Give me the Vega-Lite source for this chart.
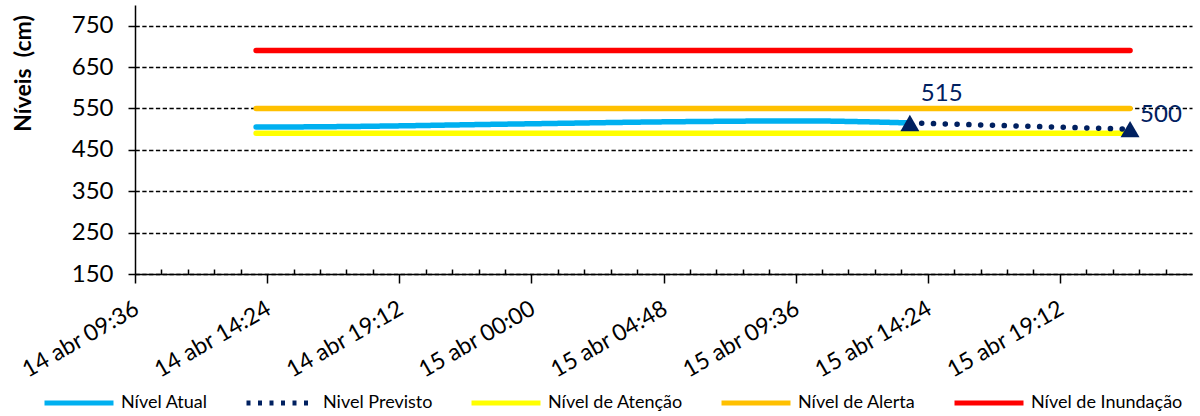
{
  "$schema": "https://vega.github.io/schema/vega-lite/v6.json",
  "width": 1057,
  "height": 269,
  "autosize": {"type": "none"},
  "padding": {"left": 135, "top": 5, "right": 8, "bottom": 142},
  "background": "white",
  "config": {
    "view": {"stroke": null},
    "font": "Lato",
    "axis": {
      "domainColor": "#000000",
      "domainWidth": 1.5,
      "tickColor": "#000000",
      "tickWidth": 1.5,
      "labelFont": "Lato",
      "labelFontSize": 24,
      "labelColor": "#000000",
      "titleFont": "Lato",
      "titleColor": "#000000"
    },
    "legend": {
      "orient": "none",
      "legendX": -93,
      "legendY": 361,
      "direction": "horizontal",
      "gridAlign": "none",
      "symbolType": "stroke",
      "symbolSize": 4761,
      "symbolStrokeWidth": 5,
      "labelFont": "Lato",
      "labelFontSize": 18,
      "labelColor": "#000000",
      "columnPadding": 28,
      "labelOffset": 5,
      "padding": 0
    }
  },
  "data": {
    "values": [
      {"serie": "Nível de Inundação", "t": "2024-04-14T14:00:00", "v": 690},
      {"serie": "Nível de Inundação", "t": "2024-04-15T21:45:00", "v": 690},
      {"serie": "Nível de Alerta", "t": "2024-04-14T14:00:00", "v": 550},
      {"serie": "Nível de Alerta", "t": "2024-04-15T21:45:00", "v": 550},
      {"serie": "Nível de Atenção", "t": "2024-04-14T14:00:00", "v": 490},
      {"serie": "Nível de Atenção", "t": "2024-04-15T21:45:00", "v": 490},
      {"serie": "Nível Atual", "t": "2024-04-14T14:00:00", "v": 505},
      {"serie": "Nível Atual", "t": "2024-04-14T16:45:00", "v": 506},
      {"serie": "Nível Atual", "t": "2024-04-14T19:15:00", "v": 508},
      {"serie": "Nível Atual", "t": "2024-04-14T22:00:00", "v": 511},
      {"serie": "Nível Atual", "t": "2024-04-15T01:00:00", "v": 514},
      {"serie": "Nível Atual", "t": "2024-04-15T04:00:00", "v": 517},
      {"serie": "Nível Atual", "t": "2024-04-15T07:00:00", "v": 519},
      {"serie": "Nível Atual", "t": "2024-04-15T09:45:00", "v": 520},
      {"serie": "Nível Atual", "t": "2024-04-15T12:00:00", "v": 518},
      {"serie": "Nível Atual", "t": "2024-04-15T13:45:00", "v": 515},
      {"serie": "Nivel Previsto", "t": "2024-04-15T13:45:00", "v": 515},
      {"serie": "Nivel Previsto", "t": "2024-04-15T21:45:00", "v": 500}
    ]
  },
  "encoding": {
    "x": {
      "field": "t",
      "type": "temporal",
      "title": null,
      "scale": {
        "domain": [
          {"year": 2024, "month": 4, "date": 14, "hours": 9, "minutes": 36},
          {"year": 2024, "month": 4, "date": 16, "hours": 0, "minutes": 0}
        ]
      },
      "axis": {
        "grid": false,
        "labelAngle": -30,
        "labelFontSize": 23,
        "labelOverlap": false,
        "labelFlush": false,
        "labelPadding": 14,
        "labelOffset": -4,
        "labelExpr": "seconds(datum.value) == 0 ? timeFormat(datum.value, '%d abr %H:%M') : ''",
        "tickSize": {"condition": {"test": "seconds(datum.value) == 0", "value": 9}, "value": -5},
        "values": [
          {"year": 2024, "month": 4, "date": 14, "hours": 9, "minutes": 36, "seconds": 0},
          {"year": 2024, "month": 4, "date": 14, "hours": 10, "minutes": 33, "seconds": 36},
          {"year": 2024, "month": 4, "date": 14, "hours": 11, "minutes": 31, "seconds": 12},
          {"year": 2024, "month": 4, "date": 14, "hours": 12, "minutes": 28, "seconds": 48},
          {"year": 2024, "month": 4, "date": 14, "hours": 13, "minutes": 26, "seconds": 24},
          {"year": 2024, "month": 4, "date": 14, "hours": 14, "minutes": 24, "seconds": 0},
          {"year": 2024, "month": 4, "date": 14, "hours": 15, "minutes": 21, "seconds": 36},
          {"year": 2024, "month": 4, "date": 14, "hours": 16, "minutes": 19, "seconds": 12},
          {"year": 2024, "month": 4, "date": 14, "hours": 17, "minutes": 16, "seconds": 48},
          {"year": 2024, "month": 4, "date": 14, "hours": 18, "minutes": 14, "seconds": 24},
          {"year": 2024, "month": 4, "date": 14, "hours": 19, "minutes": 12, "seconds": 0},
          {"year": 2024, "month": 4, "date": 14, "hours": 20, "minutes": 9, "seconds": 36},
          {"year": 2024, "month": 4, "date": 14, "hours": 21, "minutes": 7, "seconds": 12},
          {"year": 2024, "month": 4, "date": 14, "hours": 22, "minutes": 4, "seconds": 48},
          {"year": 2024, "month": 4, "date": 14, "hours": 23, "minutes": 2, "seconds": 24},
          {"year": 2024, "month": 4, "date": 15, "hours": 0, "minutes": 0, "seconds": 0},
          {"year": 2024, "month": 4, "date": 15, "hours": 0, "minutes": 57, "seconds": 36},
          {"year": 2024, "month": 4, "date": 15, "hours": 1, "minutes": 55, "seconds": 12},
          {"year": 2024, "month": 4, "date": 15, "hours": 2, "minutes": 52, "seconds": 48},
          {"year": 2024, "month": 4, "date": 15, "hours": 3, "minutes": 50, "seconds": 24},
          {"year": 2024, "month": 4, "date": 15, "hours": 4, "minutes": 48, "seconds": 0},
          {"year": 2024, "month": 4, "date": 15, "hours": 5, "minutes": 45, "seconds": 36},
          {"year": 2024, "month": 4, "date": 15, "hours": 6, "minutes": 43, "seconds": 12},
          {"year": 2024, "month": 4, "date": 15, "hours": 7, "minutes": 40, "seconds": 48},
          {"year": 2024, "month": 4, "date": 15, "hours": 8, "minutes": 38, "seconds": 24},
          {"year": 2024, "month": 4, "date": 15, "hours": 9, "minutes": 36, "seconds": 0},
          {"year": 2024, "month": 4, "date": 15, "hours": 10, "minutes": 33, "seconds": 36},
          {"year": 2024, "month": 4, "date": 15, "hours": 11, "minutes": 31, "seconds": 12},
          {"year": 2024, "month": 4, "date": 15, "hours": 12, "minutes": 28, "seconds": 48},
          {"year": 2024, "month": 4, "date": 15, "hours": 13, "minutes": 26, "seconds": 24},
          {"year": 2024, "month": 4, "date": 15, "hours": 14, "minutes": 24, "seconds": 0},
          {"year": 2024, "month": 4, "date": 15, "hours": 15, "minutes": 21, "seconds": 36},
          {"year": 2024, "month": 4, "date": 15, "hours": 16, "minutes": 19, "seconds": 12},
          {"year": 2024, "month": 4, "date": 15, "hours": 17, "minutes": 16, "seconds": 48},
          {"year": 2024, "month": 4, "date": 15, "hours": 18, "minutes": 14, "seconds": 24},
          {"year": 2024, "month": 4, "date": 15, "hours": 19, "minutes": 12, "seconds": 0},
          {"year": 2024, "month": 4, "date": 15, "hours": 20, "minutes": 9, "seconds": 36},
          {"year": 2024, "month": 4, "date": 15, "hours": 21, "minutes": 7, "seconds": 12},
          {"year": 2024, "month": 4, "date": 15, "hours": 22, "minutes": 4, "seconds": 48},
          {"year": 2024, "month": 4, "date": 15, "hours": 23, "minutes": 2, "seconds": 24}
        ]
      }
    },
    "y": {
      "field": "v",
      "type": "quantitative",
      "scale": {"domain": [150, 800], "nice": false, "zero": false},
      "axis": {
        "values": [150, 250, 350, 450, 550, 650, 750],
        "grid": true,
        "gridColor": "#000000",
        "gridDash": [4.3, 2.5],
        "gridWidth": 1.3,
        "tickSize": 7,
        "labelPadding": 15,
        "title": "Níveis\u00a0 (cm)",
        "titleFontSize": 23,
        "titleFontWeight": "bold",
        "titleAngle": -90,
        "titleAlign": "center",
        "titleBaseline": "middle",
        "titleX": -112,
        "titleY": 68
      }
    }
  },
  "layer": [
    {
      "transform": [{"filter": "datum.serie != 'Nivel Previsto'"}],
      "mark": {"type": "line", "strokeWidth": 5.5, "strokeCap": "round", "strokeJoin": "round", "interpolate": "monotone"},
      "encoding": {
        "color": {
          "field": "serie",
          "type": "nominal",
          "title": null,
          "scale": {
            "domain": ["Nível Atual", "Nivel Previsto", "Nível de Atenção", "Nível de Alerta", "Nível de Inundação"],
            "range": ["#00B0F0", "#002060", "#FFFF00", "#FFC000", "#FF0000"]
          }
        },
        "strokeDash": {
          "field": "serie",
          "type": "nominal",
          "title": null,
          "scale": {
            "domain": ["Nível Atual", "Nivel Previsto", "Nível de Atenção", "Nível de Alerta", "Nível de Inundação"],
            "range": [[1, 0], [4, 7.5], [1, 0], [1, 0], [1, 0]]
          }
        }
      }
    },
    {
      "transform": [{"filter": "datum.serie == 'Nivel Previsto'"}],
      "mark": {"type": "line", "color": "#002060", "strokeWidth": 5.5, "strokeCap": "round", "strokeDash": [0.1, 11.7]},
      "encoding": {}
    },
    {
      "transform": [{"filter": "datum.serie == 'Nivel Previsto'"}],
      "mark": {"type": "point", "shape": "triangle-up", "filled": true, "color": "#002060", "size": 360, "opacity": 1},
      "encoding": {}
    },
    {
      "transform": [{"filter": "datum.serie == 'Nivel Previsto' && datum.v == 515"}],
      "mark": {"type": "text", "align": "left", "baseline": "alphabetic", "dx": 11, "dy": -22, "fontSize": 24, "font": "Lato", "color": "#002060"},
      "encoding": {"text": {"field": "v", "type": "quantitative"}}
    },
    {
      "transform": [{"filter": "datum.serie == 'Nivel Previsto' && datum.v == 500"}],
      "mark": {"type": "text", "align": "left", "baseline": "alphabetic", "dx": 10, "dy": -7, "fontSize": 24, "font": "Lato", "color": "#002060"},
      "encoding": {"text": {"field": "v", "type": "quantitative"}}
    }
  ]
}
